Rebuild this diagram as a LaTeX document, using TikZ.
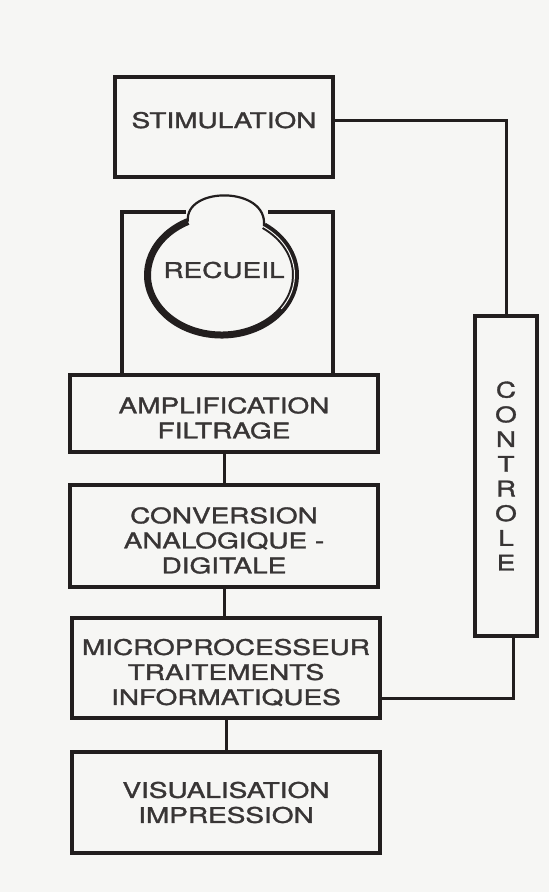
\documentclass[tikz,border=0pt]{standalone}
\usepackage{fontspec}
\setmainfont{TeX Gyre Heros}[FakeStretch=1.3, FakeBold=1.5]
\usepackage{tikz}
\usetikzlibrary{calc}
\definecolor{ink}{RGB}{34,30,30}
\definecolor{paper}{RGB}{246,246,244}
\newcommand{\toppad}{\rule{0pt}{25pt}}

\begin{document}
\begin{tikzpicture}[x=1pt, y=-1pt,
    block/.style={draw=ink, line width=3.5pt, rectangle, inner sep=1pt, align=center,
        text=ink!90, font=\fontsize{21.5}{25}\selectfont, minimum width=308pt},
    link/.style={draw=ink, line width=3pt}]
    % Page
    \fill[paper] (0,0) rectangle (549,892);
    \useasboundingbox (0,0) rectangle (549,892);

    % Blocks
    \node[block, minimum width=218pt, minimum height=100pt, text height=16pt, text depth=14pt] (stim) at (224,127) {STIMULATION};
    \node[block, minimum height=77pt] (amp) at (224,413.5) {\toppad AMPLIFICATION\\FILTRAGE};
    \node[block, minimum height=102pt] (conv) at (224,536) {\toppad CONVERSION\\ANALOGIQUE -\\DIGITALE};
    \node[block, minimum height=100pt] (micro) at (226,668) {\toppad MICROPROCESSEUR\\TRAITEMENTS\\INFORMATIQUES};
    \node[block, minimum height=101pt] (visu) at (226,802.5) {VISUALISATION\\IMPRESSION};
    \node[block, minimum width=62pt, minimum height=320pt, font=\fontsize{21.5}{24.7}\selectfont] (ctrl) at (506,476) {C\\O\\N\\T\\R\\O\\L\\E};
    \node[text=ink!90, font=\fontsize{21.5}{25}\selectfont] (rec) at (224,270) {RECUEIL};

    % Frame of the recueil
    \draw[link, line width=3.5pt] (186,212) -| (122,0 |- amp.north);
    \draw[link, line width=3.5pt] (268,212) -| (333,0 |- amp.north);

    % Ring
    \draw[ink, line width=7pt] (221.5,275) ++(243:74 and 60) coordinate (ringL)
        arc[start angle=243, end angle=-55, x radius=74, y radius=60] coordinate (ringR);
    \draw[paper, line width=1pt] (221.5,275) ++(-55:73 and 59)
        arc[start angle=-55, end angle=35, x radius=73, y radius=59];
    \draw[ink, line width=2.2pt] (ringL) .. controls (184,186) and (268,186) .. (ringR);

    % Chain
    \draw[link] (amp.south) -- (amp.south |- conv.north);
    \draw[link] (conv.south) -- (conv.south |- micro.north);
    \draw[link] (micro.south) -- (micro.south |- visu.north);

    % Loop through the control
    \draw[link] ([yshift=7pt]stim.east) -| (ctrl.north);
    \draw[link] ([xshift=7pt]ctrl.south) |- ([yshift=-30pt]micro.east);
\end{tikzpicture}
\end{document}
